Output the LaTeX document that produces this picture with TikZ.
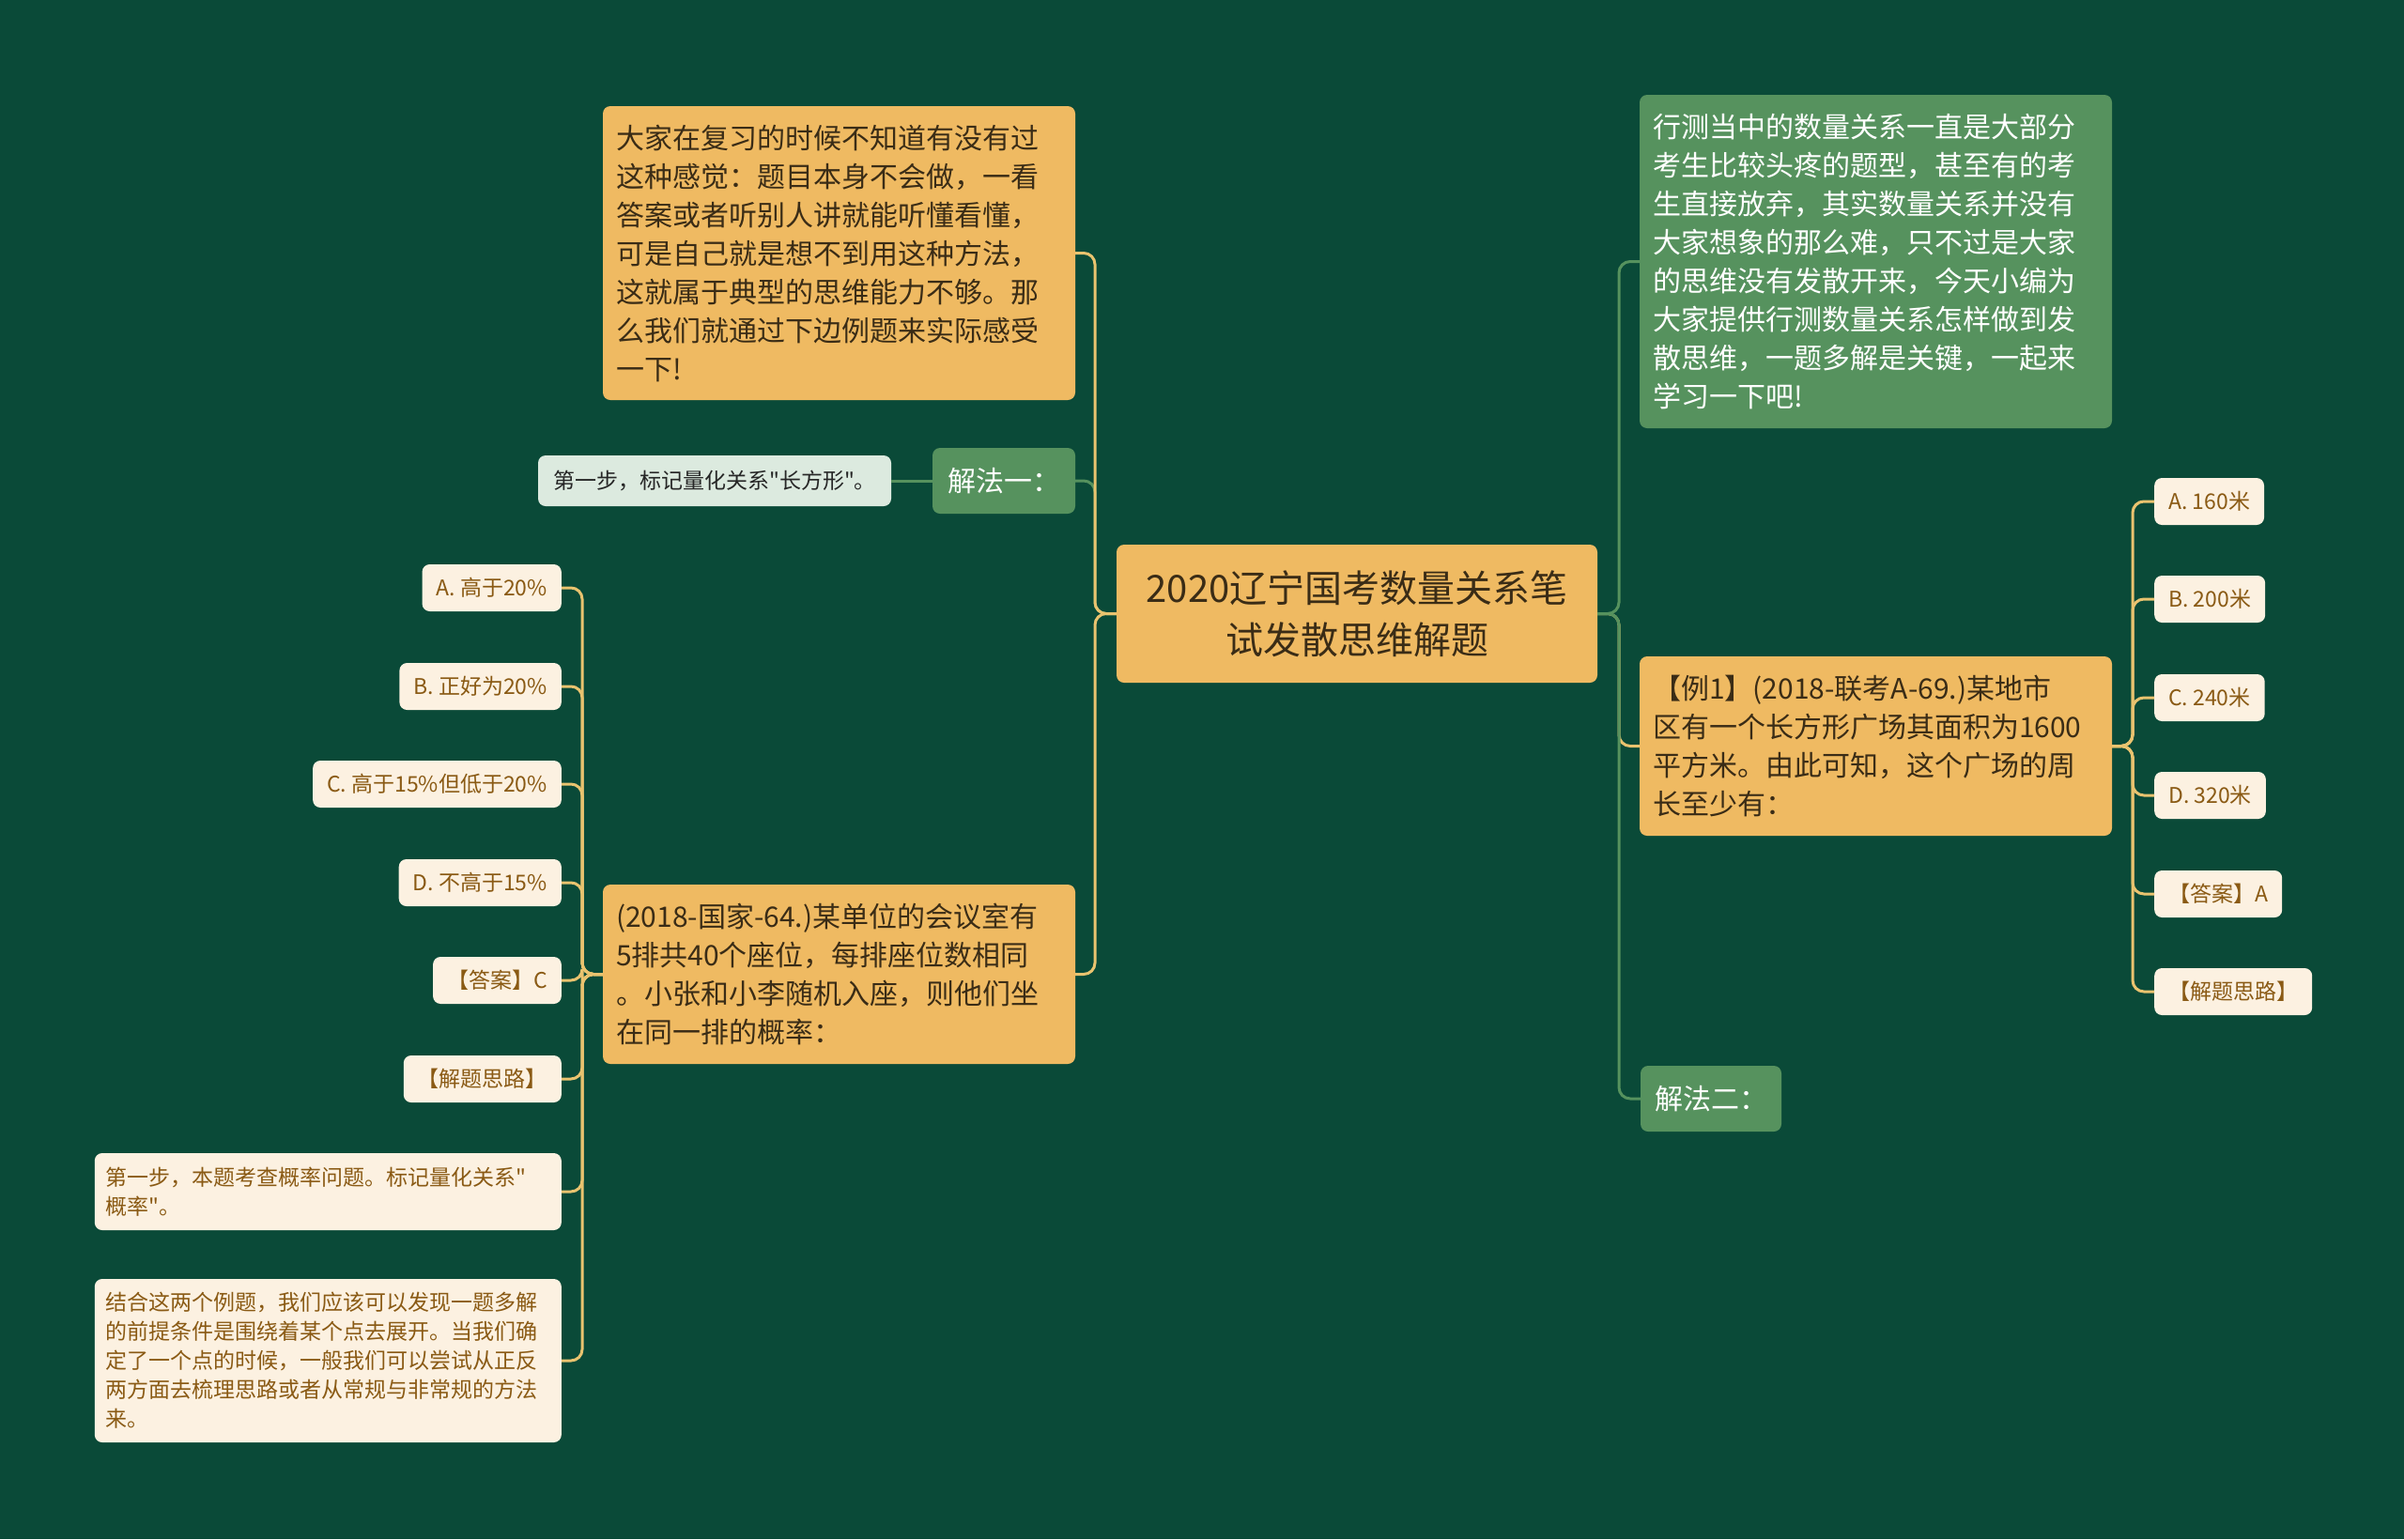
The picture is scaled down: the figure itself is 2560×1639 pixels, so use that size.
\documentclass[tikz,border=0pt]{standalone}
\usepackage{fontspec}
\newfontfamily\cjk{Noto Sans CJK SC}
\definecolor{bg}{HTML}{0A4A38}
\definecolor{org}{HTML}{EFBA62}
\definecolor{grn}{HTML}{56925E}
\definecolor{cream}{HTML}{FCF1E1}
\definecolor{lgrn}{HTML}{DCEADF}
\definecolor{gold}{HTML}{E9C36F}
\definecolor{brown}{HTML}{8A5A14}
\definecolor{dtext}{HTML}{3A2C16}
\tikzset{
 bigbox/.style={rounded corners=8pt, inner xsep=14pt, inner ysep=0pt, text width=475pt, align=left, font=\cjk\fontsize{30}{41}\selectfont},
 orangebox/.style={bigbox, fill=org, text=dtext},
 greenbox/.style={bigbox, fill=grn, text=white},
 smallbox/.style={rounded corners=8pt, fill=cream, text=brown, inner xsep=15pt, minimum height=50pt, font=\cjk\fontsize{23}{31}\selectfont},
 notebox/.style={smallbox, text width=473pt, align=left, inner xsep=12pt},
 goldline/.style={draw=gold, line width=3pt, rounded corners=12pt},
 greenline/.style={draw=grn, line width=3pt, rounded corners=12pt},
}
\begin{document}
\cjk
\begin{tikzpicture}[x=1pt,y=-1pt]
\fill[bg] (0,0) rectangle (2560,1639);
\useasboundingbox (0,0) rectangle (2560,1639);

% central
\node[fill=org, text=dtext, rounded corners=8pt, minimum width=512pt, minimum height=147pt, align=center, font=\cjk\fontsize{40}{55}\selectfont] (c) at (1445,653.5) {2020辽宁国考数量关系笔\\试发散思维解题};

% left side
\node[orangebox, minimum height=313pt] (tl) at (893.5,269.5) {大家在复习的时候不知道有没有过\\这种感觉：题目本身不会做，一看\\答案或者听别人讲就能听懂看懂，\\可是自己就是想不到用这种方法，\\这就属于典型的思维能力不够。那\\么我们就通过下边例题来实际感受\\一下!};
\node[fill=grn, text=white, rounded corners=8pt, minimum width=152pt, minimum height=70pt, inner sep=0pt, font=\cjk\fontsize{30}{36}\selectfont] (j1) at (1069,512) {解法一：};
\node[rounded corners=8pt, fill=lgrn, text=black!85, minimum width=376pt, minimum height=54pt, inner sep=0pt, font=\cjk\fontsize{23}{31}\selectfont] (s1) at (761,512) {第一步，标记量化关系"长方形"。};
\node[orangebox, minimum height=191pt] (bl) at (893.5,1037.5) {(2018-国家-64.)某单位的会议室有\\5排共40个座位，每排座位数相同\\。小张和小李随机入座，则他们坐\\在同一排的概率：};

\node[smallbox, anchor=east] (la) at (598,626) {A. 高于20\%};
\node[smallbox, anchor=east] (lb) at (598,731) {B. 正好为20\%};
\node[smallbox, anchor=east] (lc) at (598,835) {C. 高于15\%但低于20\%};
\node[smallbox, anchor=east] (ld) at (598,940) {D. 不高于15\%};
\node[smallbox, anchor=east] (le) at (598,1044) {【答案】C};
\node[smallbox, anchor=east] (lf) at (598,1149) {【解题思路】};
\node[notebox, anchor=east, minimum height=82pt] (lg) at (598,1269) {第一步，本题考查概率问题。标记量化关系"\\概率"。};
\node[notebox, anchor=east, minimum height=174pt] (lh) at (598,1449) {结合这两个例题，我们应该可以发现一题多解\\的前提条件是围绕着某个点去展开。当我们确\\定了一个点的时候，一般我们可以尝试从正反\\两方面去梳理思路或者从常规与非常规的方法\\来。};

% right side
\node[greenbox, minimum height=355pt] (rg) at (1997.5,278.5) {行测当中的数量关系一直是大部分\\考生比较头疼的题型，甚至有的考\\生直接放弃，其实数量关系并没有\\大家想象的那么难，只不过是大家\\的思维没有发散开来，今天小编为\\大家提供行测数量关系怎样做到发\\散思维，一题多解是关键，一起来\\学习一下吧!};
\node[orangebox, minimum height=191pt] (r1) at (1997.5,794.5) {【例1】(2018-联考A-69.)某地市\\区有一个长方形广场其面积为1600\\平方米。由此可知，这个广场的周\\长至少有：};
\node[fill=grn, text=white, rounded corners=8pt, minimum width=150pt, minimum height=70pt, inner sep=0pt, font=\cjk\fontsize{30}{36}\selectfont] (j2) at (1822,1170) {解法二：};

\node[smallbox, anchor=west] (ra) at (2294,534) {A. 160米};
\node[smallbox, anchor=west] (rb) at (2294,638) {B. 200米};
\node[smallbox, anchor=west] (rc) at (2294,743) {C. 240米};
\node[smallbox, anchor=west] (rd) at (2294,847) {D. 320米};
\node[smallbox, anchor=west] (re) at (2294,952) {【答案】A};
\node[smallbox, anchor=west] (rf) at (2294,1056) {【解题思路】};

% connectors left
\draw[greenline] (c.west) -- (1166,653.5) |- (j1.east);
\draw[goldline] (c.west) -- (1166,653.5) |- (tl.east);
\draw[goldline] (c.west) -- (1166,653.5) |- (bl.east);
\draw[greenline] (j1.west) -- (s1.east);
\foreach \n in {la,lb,lc,ld,le,lf,lg,lh}
  \draw[goldline] (bl.west) -- (620,1037.5) |- (\n.east);

% connectors right
\draw[goldline] (c.east) -- (1724,653.5) |- (r1.west);
\draw[greenline] (c.east) -- (1724,653.5) |- (rg.west);
\draw[greenline] (c.east) -- (1724,653.5) |- (j2.west);
\foreach \n in {ra,rb,rc,rd,re,rf}
  \draw[goldline] (r1.east) -- (2271,794.5) |- (\n.west);
\end{tikzpicture}
\end{document}
